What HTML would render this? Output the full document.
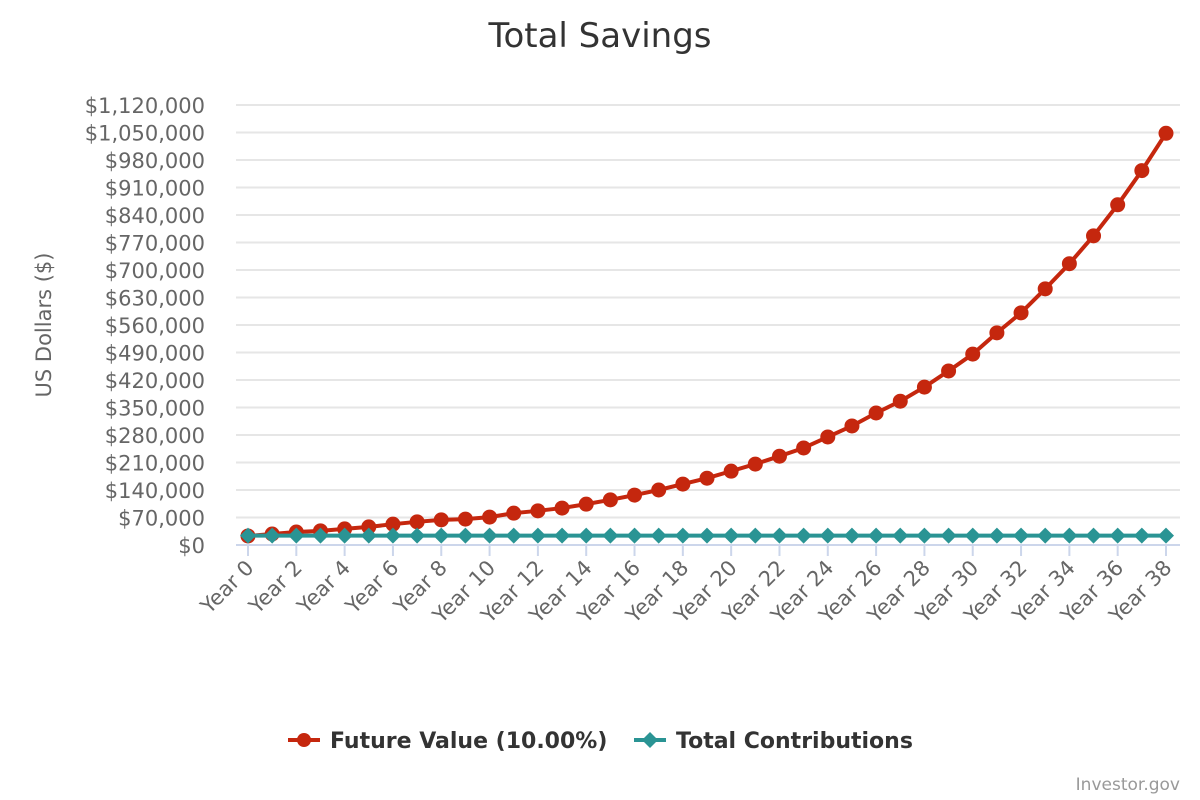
<!DOCTYPE html>
<html><head><meta charset="utf-8"><style>
body{margin:0;background:#fff;}
svg{display:block;font-family:"DejaVu Sans","Liberation Sans",sans-serif;}
</style></head><body>
<svg id="chart" width="1200" height="800">
<text x="600" y="47" text-anchor="middle" font-size="34" fill="#333">Total Savings</text>
<text transform="translate(51,325) rotate(-90)" text-anchor="middle" font-size="21" fill="#666">US Dollars ($)</text>
<g id="grid"></g><g id="ylabels"></g><g id="xlabels"></g><g id="series"></g>
<g>
<g>
<line x1="288" y1="740" x2="320" y2="740" stroke="#c5270e" stroke-width="4"/>
<circle cx="304" cy="740" r="7" fill="#c5270e"/>
<text x="330" y="748" font-size="22" font-weight="bold" fill="#333">Future Value (10.00%)</text></g>
<g>
<line x1="634" y1="740" x2="666" y2="740" stroke="#2a9494" stroke-width="4"/>
<path d="M650 732 L658 740 L650 748 L642 740Z" fill="#2a9494"/>
<text x="676" y="748" font-size="22" font-weight="bold" fill="#333">Total Contributions</text></g>
</g>
<text x="1180" y="790" text-anchor="end" font-size="17" fill="#999">Investor.gov</text>
</svg>
<script>
const years = [];
for (let i = 0; i <= 38; i++) years.push('Year ' + i);
const futureValue = [23000,28000,33000,36000,41000,46000,53000,59000,64000,66000,71000,81000,87000,94000,104000,115000,127000,140000,155000,170000,188000,206000,226000,247000,275000,303000,336000,366000,402000,443000,486000,540000,591000,652000,716000,787000,866000,953000,1048000];
const contributions = [24000,24000,24000,24000,24000,24000,24000,24000,24000,24000,24000,24000,24000,24000,24000,24000,24000,24000,24000,24000,24000,24000,24000,24000,24000,24000,24000,24000,24000,24000,24000,24000,24000,24000,24000,24000,24000,24000,24000];
const yTicks = [0,70000,140000,210000,280000,350000,420000,490000,560000,630000,700000,770000,840000,910000,980000,1050000,1120000];

const NS='http://www.w3.org/2000/svg';
const x0=248,x1=1166,yb=545,yt=105,ymax=1120000;
const xs=i=>x0+(x1-x0)*i/(years.length-1);
const ys=v=>yb-(yb-yt)*v/ymax;
function mk(t,a,p){const e=document.createElementNS(NS,t);for(const k in a)e.setAttribute(k,a[k]);p.appendChild(e);return e;}
const grid=document.getElementById('grid'),yl=document.getElementById('ylabels'),xl=document.getElementById('xlabels'),se=document.getElementById('series');
yTicks.forEach(v=>{
  const l=mk('line',{x1:236,x2:1180,y1:ys(v),y2:ys(v),stroke:v===0?'#ccd6eb':'#e6e6e6','stroke-width':2},grid);
  
  
  const t=mk('text',{x:205,y:ys(v)+8,'text-anchor':'end','font-size':21,fill:'#666'},yl);
  t.textContent='$'+v.toLocaleString('en-US');
  
  
});
years.forEach((y,i)=>{
  if(i%2) return;
  const tk=mk('line',{x1:xs(i),x2:xs(i),y1:546,y2:556,stroke:'#ccd6eb','stroke-width':2},xl);
  
  
  const t=mk('text',{transform:`translate(${xs(i)+7},${569}) rotate(-45)`,'text-anchor':'end','font-size':21,fill:'#666'},xl);
  t.textContent=y;
  
  
});
function series(vals,color,shape,name){
  const g=mk('g',{},se);
  
  
  const p=mk('polyline',{points:vals.map((v,i)=>xs(i)+','+ys(v)).join(' '),fill:'none',stroke:color,'stroke-width':4,'stroke-linejoin':'round'},g);
  
  
  vals.forEach((v,i)=>{
    const x=xs(i),y=ys(v);
    const m=shape==='c'?mk('circle',{cx:x,cy:y,r:7.5,fill:color},g):mk('path',{d:`M${x} ${y-8}L${x+8} ${y}L${x} ${y+8}L${x-8} ${y}Z`,fill:color},g);
    
    
  });
}
series(futureValue,'#c5270e','c','future-value');
series(contributions,'#2a9494','d','total-contributions');
</script>
</body></html>
